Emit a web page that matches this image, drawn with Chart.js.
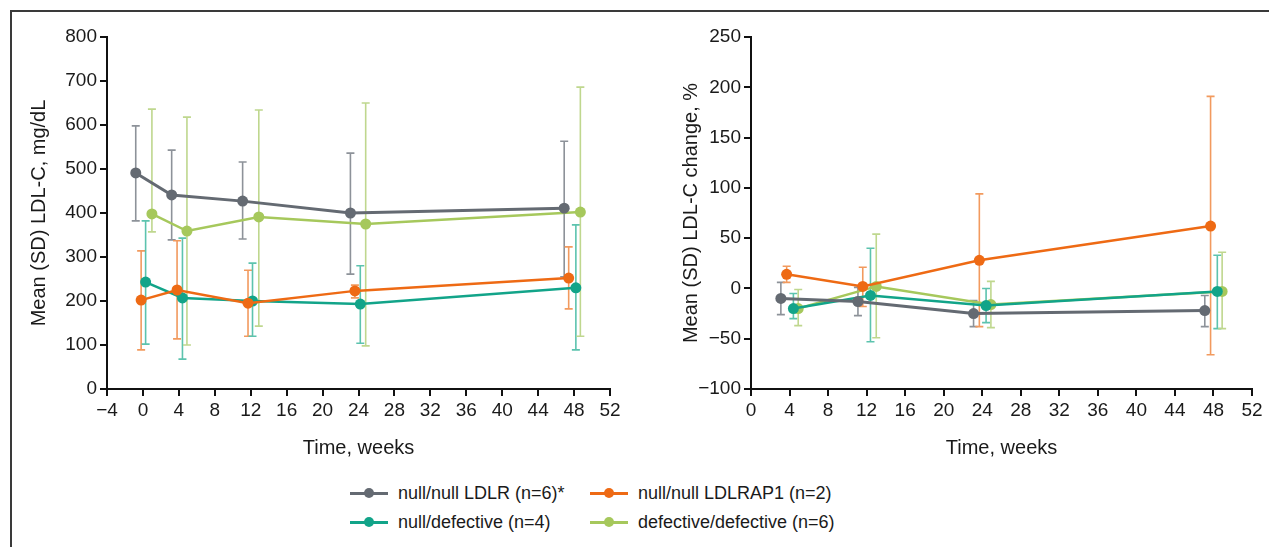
<!DOCTYPE html>
<html>
<head>
<meta charset="utf-8">
<script src="https://cdn.jsdelivr.net/npm/chart.js@4.4.1/dist/chart.umd.min.js"></script>
<style>
  body { margin: 0; background: #fff; font-family: "Liberation Sans", Arial, sans-serif; }
  #frame { position: absolute; left: 10px; top: 10px; width: 1300px; height: 600px; border: 2px solid #3a3a3a; box-sizing: border-box; }
  #left { position: absolute; left: 0; top: 0; }
  #right { position: absolute; left: 640px; top: 0; }
  .item { position: absolute; white-space: nowrap; display: flex; align-items: center; font-size: 18px; color: #1a1a1a; height: 24px; }
  .swatch { position: relative; width: 38px; height: 3px; margin-right: 10px; }
  .swatch i { position: absolute; left: 14px; top: -3.5px; width: 10px; height: 10px; border-radius: 50%; }
</style>
</head>
<body>
<div id="frame"></div>
<canvas id="left" width="640" height="470"></canvas>
<canvas id="right" width="629" height="470"></canvas>
<div id="legend"></div>
<script>
// groupes de génotype
const seriesNames = ["null/null LDLR (n=6)*", "null/null LDLRAP1 (n=2)", "null/defective (n=4)", "defective/defective (n=6)"];
const lineColors = ["#646a72", "#ee6a14", "#12a489", "#a6c85c"];
const barColors = ["#8d9299", "#f29a5e", "#5cc3ae", "#bfd78e"];

// gauche : LDL-C absolu, mg/dL
const absWeeks = [
  [-0.8, 3.2, 11.1, 23.1, 46.9],
  [-0.2, 3.8, 11.7, 23.6, 47.4],
  [0.3, 4.4, 12.2, 24.2, 48.2],
  [1.0, 4.9, 12.9, 24.8, 48.7]
];
const absMean = [
  [491, 441, 427, 400, 411],
  [202, 225, 195, 223, 252],
  [243, 207, 200, 193, 230],
  [398, 359, 391, 375, 402]
];
const absLow = [
  [382, 339, 341, 261, 255],
  [89, 114, 120, 207, 182],
  [102, 68, 120, 104, 89],
  [357, 100, 143, 98, 120]
];
const absHigh = [
  [598, 543, 516, 536, 563],
  [314, 337, 270, 236, 323],
  [382, 343, 286, 280, 373],
  [636, 618, 634, 650, 686]
];

// droite : variation LDL-C, %
const pctWeeks = [
  [3.1, 11.1, 23.1, 47.1],
  [3.7, 11.6, 23.7, 47.7],
  [4.4, 12.4, 24.4, 48.4],
  [4.9, 13.0, 24.9, 48.9]
];
const pctMean = [
  [-10, -13, -25, -22],
  [14, 2, 28, 62],
  [-20, -7, -17, -3],
  [-20, 2, -16, -3]
];
const pctLow = [
  [-26, -27, -38, -38],
  [6, -18, -38, -66],
  [-30, -53, -34, -40],
  [-37, -49, -39, -40]
];
const pctHigh = [
  [6, 1, -12, -7],
  [22, 21, 94, 191],
  [-5, 40, 0, 33],
  [-1, 54, 7, 36]
];

const errorBars = {
  id: "errorBars",
  beforeDatasetsDraw(chart) {
    const ctx = chart.ctx;
    const x = chart.scales.x, y = chart.scales.y;
    chart.data.datasets.forEach((ds, i) => {
      ctx.save();
      ctx.strokeStyle = ds.errorColor;
      ctx.lineWidth = 1.6;
      ds.data.forEach(p => {
        const px = x.getPixelForValue(p.x);
        const top = y.getPixelForValue(p.hi);
        const bot = y.getPixelForValue(p.lo);
        ctx.beginPath();
        ctx.moveTo(px, top); ctx.lineTo(px, bot);
        ctx.moveTo(px - 4, top); ctx.lineTo(px + 4, top);
        ctx.moveTo(px - 4, bot); ctx.lineTo(px + 4, bot);
        ctx.stroke();
      });
      ctx.restore();
    });
  }
};

function buildDatasets(weeks, mean, low, high) {
  return seriesNames.map((name, i) => ({
    label: name,
    data: weeks[i].map((w, j) => ({ x: w, y: mean[i][j], lo: low[i][j], hi: high[i][j] })),
    borderColor: lineColors[i],
    backgroundColor: lineColors[i],
    errorColor: barColors[i],
    borderWidth: i === 0 ? 3 : 2.5,
    pointRadius: 5.5,
    pointBorderWidth: 0,
    tension: 0
  }));
}

const minus = v => String(v).replace("-", "\u2212");
const tickFont = { family: "'Liberation Sans', Arial, sans-serif", size: 19 };
const titleFont = { family: "'Liberation Sans', Arial, sans-serif", size: 20 };

function makeChart(canvasId, datasets, xr, yr, yTitle, yWidth, padRight, titlePad) {
  const axisGrid = { drawOnChartArea: false, drawTicks: true, tickLength: 7, color: "#111", lineWidth: 2 };
  return new Chart(document.getElementById(canvasId), {
    type: "line",
    data: { datasets: datasets },
    options: {
      responsive: false,
      animation: false,
      devicePixelRatio: 1,
      layout: { padding: { top: 37, right: padRight, left: 0, bottom: 0 } },
      plugins: { legend: { display: false }, tooltip: { enabled: false } },
      scales: {
        x: {
          type: "linear", min: xr[0], max: xr[1],
          border: { color: "#111", width: 2 },
          grid: axisGrid,
          ticks: { stepSize: 4, color: "#1a1a1a", font: tickFont, padding: 3, maxRotation: 0, callback: minus },
          title: { display: true, text: "Time, weeks", color: "#1a1a1a", font: titleFont, padding: { top: 0, bottom: 10 } },
          afterFit: s => { s.height = 81; }
        },
        y: {
          min: yr[0], max: yr[1],
          border: { color: "#111", width: 2 },
          grid: axisGrid,
          ticks: { stepSize: yr[2], color: "#1a1a1a", font: tickFont, padding: 3, callback: minus },
          title: { display: true, text: yTitle, color: "#1a1a1a", font: titleFont, padding: { top: titlePad, bottom: 0 } },
          afterFit: s => { s.width = yWidth; }
        }
      }
    },
    plugins: [errorBars]
  });
}

makeChart("left", buildDatasets(absWeeks, absMean, absLow, absHigh), [-4, 52], [0, 800, 100], "Mean (SD) LDL-C, mg/dL", 107, 30, 27);
makeChart("right", buildDatasets(pctWeeks, pctMean, pctLow, pctHigh), [0, 52], [-100, 250, 50], "Mean (SD) LDL-C change, %", 111, 17, 39);

// légende
const legendPos = [[350, 481], [590, 481], [350, 510], [590, 510]];
const legend = document.getElementById("legend");
seriesNames.forEach((name, i) => {
  const item = document.createElement("div");
  item.className = "item";
  item.style.left = legendPos[i][0] + "px";
  item.style.top = legendPos[i][1] + "px";
  item.innerHTML = '<span class="swatch" style="background:' + lineColors[i] + '"><i style="background:' + lineColors[i] + '"></i></span>' + name;
  legend.appendChild(item);
});
</script>
</body>
</html>
